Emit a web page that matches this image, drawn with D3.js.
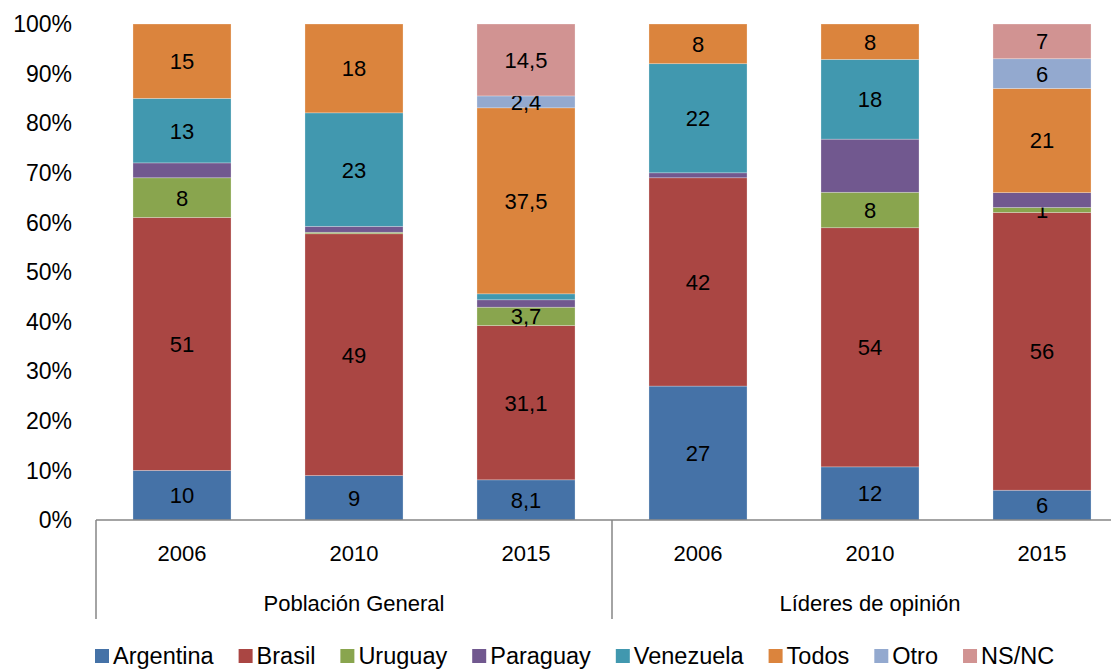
<!DOCTYPE html>
<html>
<head>
<meta charset="utf-8">
<script src="https://cdnjs.cloudflare.com/ajax/libs/d3/7.8.5/d3.min.js"></script>
<style>
  body { margin: 0; background: #fff; }
  svg text { font-family: "Liberation Sans", Arial, sans-serif; fill: #000; }
</style>
</head>
<body>
<script>
var width = 1111;
var height = 669;

// categories
var groups = ["Población General", "Líderes de opinión"];
var years = ["2006", "2010", "2015", "2006", "2010", "2015"];
var series = ["Argentina", "Brasil", "Uruguay", "Paraguay", "Venezuela", "Todos", "Otro", "NS/NC"];
var colors = ["#4572A7", "#AA4643", "#89A54E", "#71588F", "#4198AF", "#DB843D", "#93A9CF", "#D19392"];

// series values, one per bar
var argentina = [10, 9, 8.1, 27, 12, 6];
var brasil    = [51, 49, 31.1, 42, 54, 56];
var uruguay   = [8, 0.3, 3.7, 0, 8, 1];
var paraguay  = [3, 1.2, 1.5, 1, 12, 3];
var venezuela = [13, 23, 1.2, 22, 18, 0];
var todos     = [15, 18, 37.5, 8, 8, 21];
var otro      = [0, 0, 2.4, 0, 0, 6];
var nsnc      = [0, 0, 14.5, 0, 0, 7];

// segments without a data label: [series, bar]
var noLabel = [["Uruguay", 1], ["Venezuela", 2]];
var noLabelSeries = ["Paraguay"];

var yTicks = [0, 0.1, 0.2, 0.3, 0.4, 0.5, 0.6, 0.7, 0.8, 0.9, 1];

var allValues = [argentina, brasil, uruguay, paraguay, venezuela, todos, otro, nsnc];
var table = years.map(function(y, i) {
  var row = { idx: i };
  series.forEach(function(s, j) { row[s] = allValues[j][i]; });
  return row;
});

var stacked = d3.stack().keys(series).offset(d3.stackOffsetExpand)(table);

var svg = d3.select("body").append("svg")
  .attr("width", width)
  .attr("height", height);

var x = d3.scaleBand().domain(d3.range(years.length)).range([96, 1128])
  .paddingInner(0.43).paddingOuter(0.215);
var y = d3.scaleLinear().domain([0, 1]).range([520, 24]);

// y tick labels, no axis line
svg.append("g").selectAll("text")
  .data(yTicks)
  .enter().append("text")
  .attr("x", 72)
  .attr("y", function(d) { return y(d); })
  .attr("dy", "0.36em")
  .attr("text-anchor", "end")
  .style("font-size", "23px")
  .text(function(d) { return Math.round(d * 100) + "%"; });

// bars
var layer = svg.append("g").selectAll("g")
  .data(stacked)
  .enter().append("g")
  .attr("fill", function(d, i) { return colors[i]; });

layer.selectAll("rect")
  .data(function(d) { return d; })
  .enter().append("rect")
  .attr("x", function(d, i) { return x(i); })
  .attr("width", x.bandwidth())
  .attr("y", function(d) { return y(d[1]); })
  .attr("height", function(d) { return y(d[0]) - y(d[1]); })
  .attr("stroke", "#ffffff")
  .attr("stroke-opacity", 0.35)
  .attr("stroke-width", 0.75);

// data labels
layer.each(function(s) {
  var key = s.key;
  if (noLabelSeries.indexOf(key) >= 0) return;
  d3.select(this).selectAll("text")
    .data(s.filter(function(d, i) {
      var v = d.data[key];
      if (!v) return false;
      return !noLabel.some(function(n) { return n[0] == key && n[1] == d.data.idx; });
    }))
    .enter().append("text")
    .attr("x", function(d) { return x(d.data.idx) + x.bandwidth() / 2; })
    .attr("y", function(d) { return (y(d[0]) + y(d[1])) / 2; })
    .attr("dy", "0.36em")
    .attr("text-anchor", "middle")
    .style("font-size", "22px")
    .style("fill", "#000")
    .text(function(d) { return String(d.data[key]).replace(".", ","); });
});

// category axis
var axisColor = "#868686";
svg.append("line")
  .attr("x1", 96).attr("x2", width)
  .attr("y1", 520).attr("y2", 520)
  .attr("stroke", axisColor).attr("stroke-width", 1.5);

var step = x.step();
[0, 3, 6].forEach(function(k) {
  var px = 96 + k * step;
  svg.append("line")
    .attr("x1", px).attr("x2", px)
    .attr("y1", 520).attr("y2", 619)
    .attr("stroke", axisColor).attr("stroke-width", 1.5);
});

svg.append("g").selectAll("text")
  .data(years)
  .enter().append("text")
  .attr("x", function(d, i) { return x(i) + x.bandwidth() / 2; })
  .attr("y", 561)
  .attr("text-anchor", "middle")
  .style("font-size", "22px")
  .text(function(d) { return d; });

svg.append("g").selectAll("text")
  .data(groups)
  .enter().append("text")
  .attr("x", function(d, i) { return 96 + (i * 3 + 1.5) * step; })
  .attr("y", 611)
  .attr("text-anchor", "middle")
  .style("font-size", "22px")
  .text(function(d) { return d; });

// legend
var legend = svg.append("g");
var lx = 95;
series.forEach(function(s, i) {
  legend.append("rect")
    .attr("x", lx).attr("y", 649)
    .attr("width", 14).attr("height", 14)
    .attr("fill", colors[i]);
  var t = legend.append("text")
    .attr("x", lx + 18).attr("y", 664)
    .style("font-size", "23.5px")
    .text(s);
  lx += 18 + t.node().getComputedTextLength() + 25;
});
</script>
</body>
</html>
